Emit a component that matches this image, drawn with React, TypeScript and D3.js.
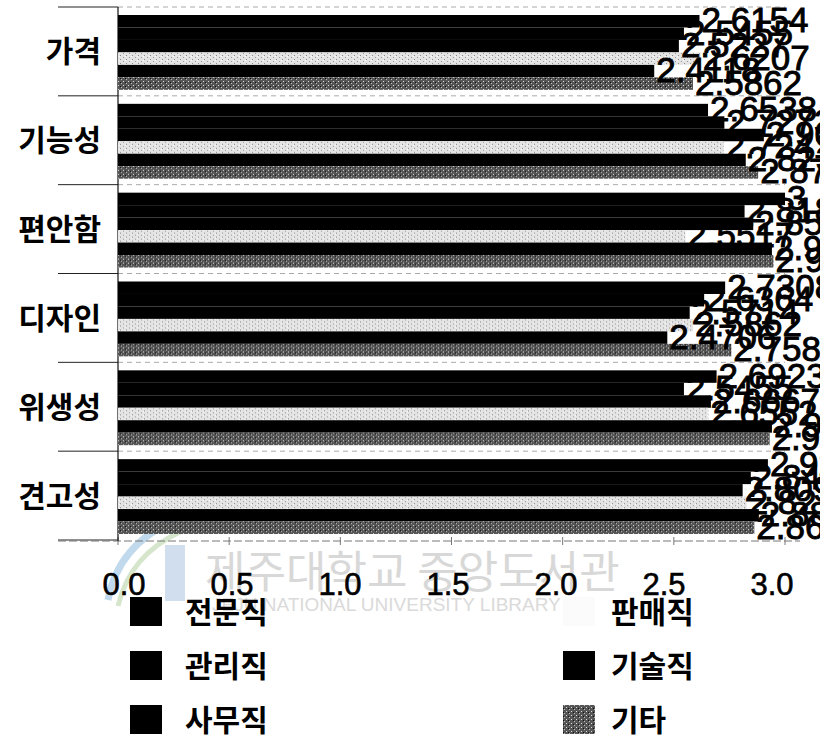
import React from "react";
import * as d3 from "d3";

const categories = ["가격", "기능성", "편안함", "디자인", "위생성", "견고성"];
const seriesNames = ["전문직", "관리직", "사무직", "판매직", "기술직", "기타"];

const s전문직 = [2.6154, 2.6538, 3, 2.7308, 2.6923, 2.9231];
const s관리직 = [2.5455, 2.7273, 2.8182, 2.6364, 2.5455, 2.8462];
const s사무직 = [2.5227, 2.9048, 2.8571, 2.5714, 2.6667, 2.8095];
const s판매직 = [2.6207, 2.7241, 2.5517, 2.5862, 2.6552, 2.8276];
const s기술직 = [2.4118, 2.8235, 2.9412, 2.4706, 2.9412, 2.8824];
const s기타 = [2.5862, 2.8793, 2.9483, 2.7586, 2.931, 2.8621];

const seriesValues = [s전문직, s관리직, s사무직, s판매직, s기술직, s기타];
const xTicks = [0, 0.5, 1, 1.5, 2, 2.5, 3];

const fills = ["#000", "#000", "#000", "url(#light)", "#000", "url(#dark)"];
const swatch = ["#000", "#000", "#000", "#fbfbfb", "#000", "url(#dark)"];

export default function App() {
  const W = 820, H = 737;
  const x = d3.scaleLinear().domain([0, 3]).range([118, 785]);
  const xLab = d3.scaleLinear().domain([0, 3]).range([124, 772]);
  const y0 = d3.scaleBand<string>().domain(categories).range([7, 540]);
  const y1 = d3.scaleBand<string>().domain(seriesNames).range([8, y0.bandwidth() - 6]);
  const fmt = (v: number) => String(+v.toFixed(4));
  const font = "'Liberation Sans', Arial, sans-serif";
  const kfont = "'Noto Sans CJK KR', sans-serif";

  const legendCols = [0, 0, 0, 1, 1, 1];
  const legendRows = [0, 1, 2, 0, 1, 2];

  return (
    <svg width={W} height={H} style={{ position: "absolute", left: 0, top: 0, background: "#fff" }}>
      <defs>
        <pattern id="light" width="6" height="4" patternUnits="userSpaceOnUse">
          <rect width="6" height="4" fill="#e4e4e4" />
          <rect x="0" y="0" width="1" height="1" fill="#888" />
          <rect x="3" y="2" width="1" height="1" fill="#999" />
          <rect x="5" y="1" width="1" height="1" fill="#fff" />
        </pattern>
        <pattern id="dark" width="5" height="4" patternUnits="userSpaceOnUse">
          <rect width="5" height="4" fill="#555" />
          <rect x="1" y="0" width="1" height="1" fill="#bbb" />
          <rect x="3" y="2" width="1" height="1" fill="#ddd" />
          <rect x="0" y="3" width="1" height="1" fill="#111" />
        </pattern>
      </defs>

      {/* watermark */}
      <g opacity={0.85}>
        <path d="M108,600 Q118,545 175,520" fill="none" stroke="#b7d3e9" strokeWidth={7} />
        <path d="M118,606 Q130,555 180,532" fill="none" stroke="#cfe2c4" strokeWidth={5} />
        <rect x={165} y={545} width={20} height={56} fill="#c9d9ec" />
        <text x={205} y={588} fontFamily={kfont} fontSize={44} fill="#d2d2d2">제주대학교 중앙도서관</text>
        <text x={212} y={611} fontFamily={font} fontSize={19} fill="#d4d4d4">JEJU NATIONAL UNIVERSITY  LIBRARY</text>
      </g>

      {/* category separators at left */}
      {categories.map((c) => (
        <line key={"s" + c} x1={58} x2={118} y1={y0(c)!} y2={y0(c)!} stroke="#222" strokeWidth={1} />
      ))}
      <line x1={58} x2={118} y1={540} y2={540} stroke="#222" strokeWidth={1} />
      {categories.map((c) => (
        <line key={"g" + c} x1={118} x2={785} y1={y0(c)!} y2={y0(c)!} stroke="#aaa" strokeWidth={1} strokeDasharray="5 4" />
      ))}
      <line x1={58} x2={800} y1={541} y2={541} stroke="#777" strokeWidth={1} strokeDasharray="8 3" />
      {xTicks.map((t) => (
        <line key={"t" + t} x1={x(t)} x2={x(t)} y1={537} y2={545} stroke="#777" />
      ))}
      <line x1={118} x2={118} y1={7} y2={541} stroke="#111" strokeWidth={1.2} />

      {/* bars */}
      {categories.map((c, ci) => (
        <g key={c} transform={`translate(0,${y0(c)})`}>
          {seriesNames.map((s, si) => (
            <rect key={s} x={x(0)} y={y1(s)!} width={x(seriesValues[si][ci]) - x(0)} height={y1.bandwidth()} fill={fills[si]} />
          ))}
        </g>
      ))}

      {/* value labels */}
      {categories.map((c, ci) => (
        <g key={"l" + c} transform={`translate(0,${y0(c)})`}>
          {seriesNames.map((s, si) => (
            <text key={s} x={x(seriesValues[si][ci]) + 2} y={y1(s)! + y1.bandwidth() / 2 + 11}
              fontFamily={font} fontSize={35} fill="#000" stroke="#000" strokeWidth={0.9}>
              {fmt(seriesValues[si][ci])}
            </text>
          ))}
        </g>
      ))}

      {/* category labels */}
      {categories.map((c) => (
        <text key={"c" + c} x={101} y={y0(c)! + y0.bandwidth() / 2 + 11} textAnchor="end"
          fontFamily={kfont} fontWeight={700} fontSize={30} fill="#000">{c}</text>
      ))}

      {/* x tick labels */}
      {xTicks.map((t) => (
        <text key={"xl" + t} x={xLab(t)} y={595} textAnchor="middle" fontFamily={font} fontSize={31} fill="#000" stroke="#000" strokeWidth={0.6}>
          {d3.format(".1f")(t)}
        </text>
      ))}

      {/* legend */}
      {seriesNames.map((s, i) => (
        <g key={"lg" + s} transform={`translate(${legendCols[i] ? 563 : 130},${597 + legendRows[i] * 54})`}>
          <rect x={0} y={0} width={32} height={29} fill={swatch[i]} />
          <text x={legendCols[i] ? 48 : 55} y={26} fontFamily={kfont} fontWeight={700} fontSize={30} fill="#000">{s}</text>
        </g>
      ))}
    </svg>
  );
}
